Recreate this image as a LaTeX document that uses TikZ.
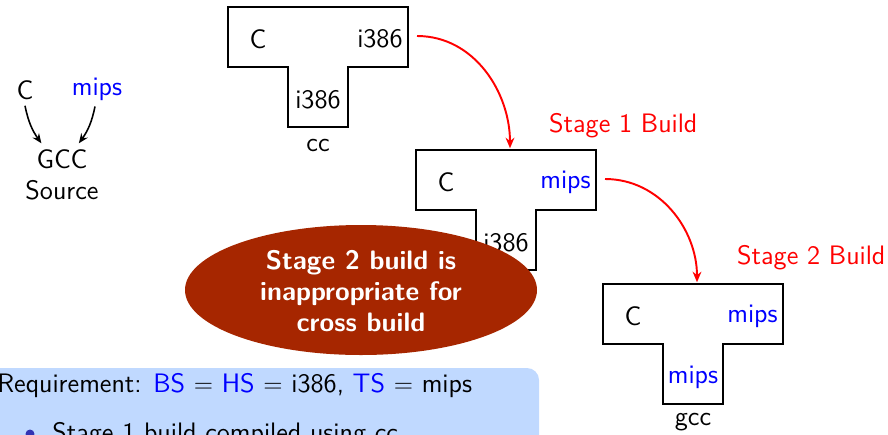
\documentclass[tikz,border=0pt]{standalone}
\usepackage{amssymb,amsmath}
\usepackage{xcolor}
\usepackage{tikz}
\usetikzlibrary{arrows.meta,calc,shapes.geometric}

\definecolor{blockblue}{RGB}{192,217,255}
\definecolor{warnbrown}{RGB}{166,38,0}
\definecolor{ballblue}{RGB}{51,51,179}

\tikzset{
  tline/.style={line width=1.1pt, line join=miter},
  stagearrow/.style={-{Stealth[length=6pt,width=5pt]}, red, line width=1.1pt, shorten >=1pt},
  srcarrow/.style={-{Stealth[length=5.5pt,width=4.5pt]}, line width=0.9pt},
  lbl/.style={inner sep=0pt}
}

% T diagram: name, x, y (top left), left, right, stem, caption
\newcommand{\tdiag}[7]{%
  \draw[tline] (#2,#3) -- ++(180,0) -- ++(0,-60) -- ++(-60,0) -- ++(0,-60)
    -- ++(-60,0) -- ++(0,60) -- ++(-60,0) -- cycle;
  \node[lbl] (#1l) at (#2+30,#3-32) {#4};
  \node[lbl, anchor=east] (#1r) at (#2+175,#3-32) {#5};
  \node[lbl] (#1s) at (#2+90,#3-93) {#6};
  \node[lbl] (#1c) at (#2+90,#3-138) {#7};
  \coordinate (#1out) at (#2+189,#3-29);
  \coordinate (#1in) at (#2+94,#3);
}

\begin{document}
\begin{tikzpicture}[>=stealth, x=0.02cm, y=0.02cm, font=\sffamily\fontsize{15.2}{18}\selectfont]
	\useasboundingbox (0,0) rectangle (888,434);
	\clip (0,0) rectangle (888,434);

	% source
	\node (srcc) at (25,344) {C};
	\node[text=blue] (srcm) at (97,345) {mips};
	\node[align=center] (gcc) at (62,259) {GCC\\Source};
	\draw[srcarrow] (srcc.south) to[bend right=12] (gcc.123);
	\draw[srcarrow] (srcm.south -| 95,0) to[bend left=12] (gcc.62);

	% compilers
	\tdiag{ta}{228}{427}{C}{i386}{i386}{cc}
	\tdiag{tb}{416}{284}{C}{\textcolor{blue}{mips}}{i386}{}
	\tdiag{tc}{603}{150}{C}{\textcolor{blue}{mips}}{\textcolor{blue}{mips}}{gcc}

	\draw[stagearrow] (taout) to[out=0,in=90] (tbin);
	\draw[stagearrow] (tbout) to[out=0,in=90] (tcin);
	\node[red, anchor=west] (st1) at (543,308) {Stage 1 Build};
	\node[red, anchor=west] (st2) at (731,176) {Stage 2 Build};

	% warning
	\fill[warnbrown] (361,144) ellipse [x radius=176, y radius=65];
	\node[text=white, font=\sffamily\bfseries\fontsize{15.2}{17.5}\selectfont, align=center] (warn) at (361,143)
		{Stage 2 build is\\inappropriate for\\cross build};

	% requirement block
	\fill[blockblue, rounded corners=0.24cm] (-30,-30) rectangle (539,66);
	\node[lbl, anchor=base west] (req) at (-3,42)
		{Requirement: \textcolor{blue}{BS} $=$ \textcolor{blue}{HS} $=$ i386, \textcolor{blue}{TS} $=$ mips};
	\node[circle, fill=ballblue, inner sep=0pt, minimum size=0.18cm] (ball) at (30,0) {};
	\node[lbl, anchor=base west] (item) at (52,-7) {Stage 1 build compiled using cc};
\end{tikzpicture}
\end{document}
